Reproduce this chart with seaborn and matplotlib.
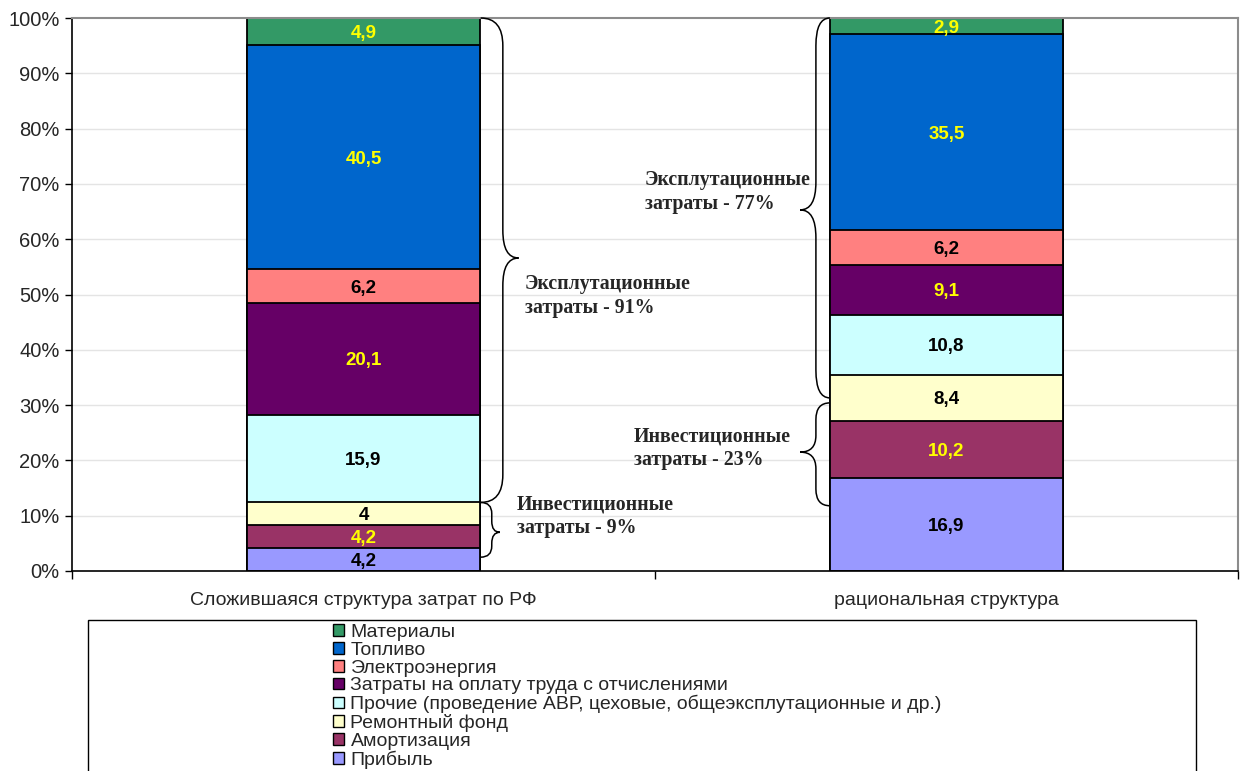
import matplotlib
matplotlib.use("Agg")
import matplotlib.pyplot as plt
from matplotlib.patches import Patch, Rectangle, PathPatch
from matplotlib.path import Path
import seaborn as sns
import pandas as pd
import numpy as np

# Cost structure (percent of total), bottom segment first
categories = ["Сложившаяся структура затрат по РФ", "рациональная структура"]
items = ["Прибыль", "Амортизация", "Ремонтный фонд",
         "Прочие (проведение АВР, цеховые, общеэксплутационные и др.)",
         "Затраты на оплату труда с отчислениями", "Электроэнергия",
         "Топливо", "Материалы"]
current = [4.2, 4.2, 4.0, 15.9, 20.1, 6.2, 40.5, 4.9]
rational = [16.9, 10.2, 8.4, 10.8, 9.1, 6.2, 35.5, 2.9]
colors = ["#9999FF", "#993366", "#FFFFCC", "#CCFFFF",
          "#660066", "#FF8080", "#0066CC", "#339966"]
label_colors = ["black", "#FFFF00", "black", "black",
                "#FFFF00", "black", "#FFFF00", "#FFFF00"]
y_ticks = [0, 10, 20, 30, 40, 50, 60, 70, 80, 90, 100]

sns.set_style("white")
plt.rcParams["font.family"] = ["Liberation Sans", "DejaVu Sans"]

fig = plt.figure(figsize=(12.46, 7.71), dpi=100)
ax = fig.add_axes([72 / 1246, 1 - 571 / 771, (1238 - 72) / 1246, (571 - 18) / 771])

df = pd.DataFrame({"item": np.repeat(items, 2),
                   "category": categories * len(items),
                   "value": np.ravel(np.column_stack([current, rational]))})
df["top"] = df.groupby("category")["value"].cumsum()
df["mid"] = df["top"] - df["value"] / 2

# gridlines
for t in y_ticks[1:-1]:
    ax.axhline(t, color="#e4e4e4", lw=1.0, zorder=0)

# stacked bars: draw cumulative tops from the highest layer down
for item, col in reversed(list(zip(items, colors))):
    sub = df[df["item"] == item]
    sns.barplot(data=sub, x="category", y="top", order=categories, color=col,
                width=0.4, edgecolor="black", linewidth=1.3, saturation=1,
                ax=ax, zorder=2)

# value labels
for item, lc in zip(items, label_colors):
    sub = df[df["item"] == item]
    for i, cat in enumerate(categories):
        row = sub[sub["category"] == cat].iloc[0]
        txt = f"{row['value']:g}".replace(".", ",")
        ax.text(i, row["mid"], txt, ha="center", va="center_baseline", color=lc,
                fontsize=13.5, fontweight="bold", zorder=5)

ax.set_xlim(-0.5, 1.5)
ax.set_ylim(0, 100)
ax.set_xlabel("")
ax.set_ylabel("")
ax.set_yticks(y_ticks)
ax.set_yticklabels([f"{t}%" for t in y_ticks], fontsize=14.5)
ax.tick_params(axis="y", length=5, width=1, color="black", pad=4, left=True)
ax.set_xticks([0, 1])
ax.set_xticklabels(categories, fontsize=14)
ax.set_xticks([-0.5, 0.5, 1.5], minor=True)
ax.tick_params(axis="x", which="major", length=0, pad=15)
ax.tick_params(axis="x", which="minor", length=6, width=1, color="black", bottom=True)
for s in ["left", "bottom"]:
    ax.spines[s].set_color("black")
    ax.spines[s].set_linewidth(1.2)
for s in ["top", "right"]:
    ax.spines[s].set_color("#8c8c8c")
    ax.spines[s].set_linewidth(1.5)


def brace(ax, x_end, x_mid, x_tip, y_bot, y_top, y_tip, r):
    verts = [(x_end, y_top), (x_mid, y_top), (x_mid, y_top - r),
             (x_mid, y_tip + r), (x_mid, y_tip), (x_tip, y_tip),
             (x_mid, y_tip), (x_mid, y_tip - r),
             (x_mid, y_bot + r), (x_mid, y_bot), (x_end, y_bot)]
    codes = [Path.MOVETO, Path.CURVE3, Path.CURVE3,
             Path.LINETO, Path.CURVE3, Path.CURVE3,
             Path.CURVE3, Path.CURVE3,
             Path.LINETO, Path.CURVE3, Path.CURVE3]
    ax.add_patch(PathPatch(Path(verts, codes), fill=False, lw=1.1,
                           edgecolor="black", zorder=4, clip_on=False))


brace(ax, 0.201, 0.239, 0.266, 12.4, 100, 56.6, 5.0)
brace(ax, 0.201, 0.220, 0.234, 2.5, 12.4, 7.0, 2.0)
brace(ax, 0.800, 0.776, 0.749, 31.3, 100, 65.3, 5.0)
brace(ax, 0.800, 0.776, 0.749, 11.8, 30.4, 21.5, 3.0)

serif = dict(family=["Liberation Serif", "DejaVu Serif"], fontsize=14.3,
             fontweight="bold", va="center", ha="left", linespacing=1.27, zorder=5)
ax.text(0.277, 49.7, "Эксплутационные\nзатраты - 91%", **serif)
ax.text(0.263, 9.9, "Инвестиционные\nзатраты - 9%", **serif)
ax.text(0.483, 68.6, "Эксплутационные\nзатраты - 77%", **serif)
ax.text(0.464, 22.2, "Инвестиционные\nзатраты - 23%", **serif)

# legend in a wide framed box along the bottom
fig.patches.append(Rectangle((88 / 1246, -0.1), (1196 - 88) / 1246, 0.1 + 1 - 620 / 771,
                             transform=fig.transFigure, fill=False,
                             edgecolor="black", lw=1.0))
handles = [Patch(facecolor=c, edgecolor="black", lw=1.0) for c in reversed(colors)]
fig.legend(handles, list(reversed(items)), loc="upper left",
           bbox_to_anchor=(333 / 1246, 1 - 624 / 771), frameon=False,
           fontsize=14, handlelength=0.55, handleheight=0.55,
           handletextpad=0.35, labelspacing=0.04, borderpad=0, borderaxespad=0)

fig.savefig("out.png", dpi=100)
